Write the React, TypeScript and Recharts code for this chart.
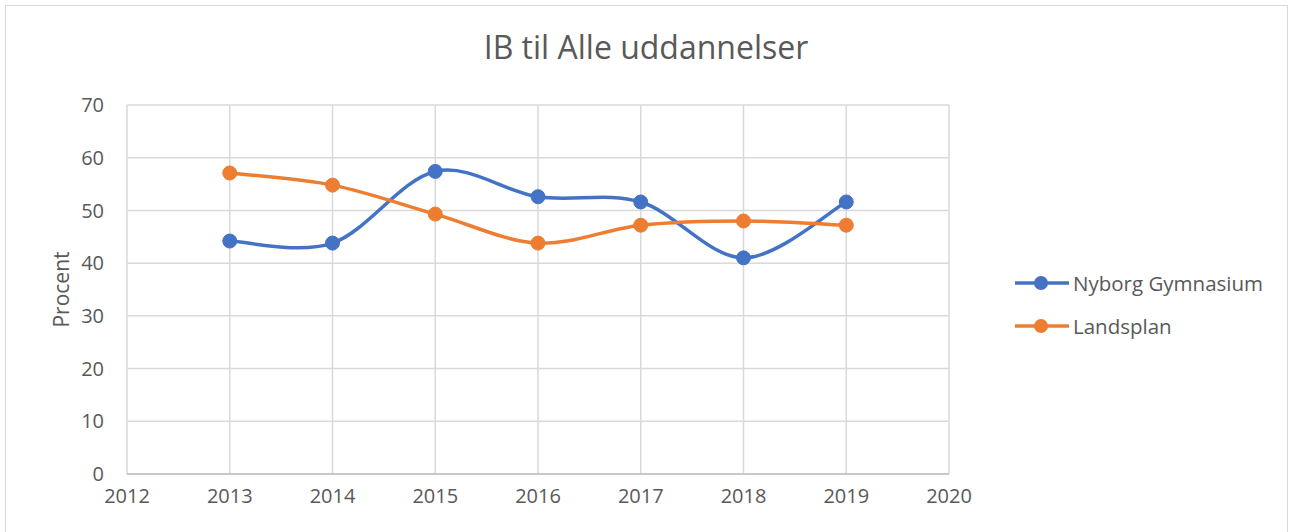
import React from "react";
import { LineChart, Line, XAxis, YAxis, CartesianGrid } from "recharts";

const years = [2013, 2014, 2015, 2016, 2017, 2018, 2019];
const nyborg = [44.2, 43.8, 57.4, 52.6, 51.6, 41.0, 51.6];
const landsplan = [57.1, 54.8, 49.3, 43.8, 47.2, 48.0, 47.2];
const xTicks = [2012, 2013, 2014, 2015, 2016, 2017, 2018, 2019, 2020];
const yTicks = [0, 10, 20, 30, 40, 50, 60, 70];
const seriesNames = ["Nyborg Gymnasium", "Landsplan"];
const colors = ["#4472C4", "#ED7D31"];

const data = years.map((y, i) => ({ year: y, nyborg: nyborg[i], landsplan: landsplan[i] }));

// Excel-like smoothing (Catmull-Rom style Bezier)
const excelCurve: any = (context: any) => {
  let pts: [number, number][] = [];
  return {
    areaStart() {},
    areaEnd() {},
    lineStart() {
      pts = [];
    },
    point(x: number, y: number) {
      pts.push([+x, +y]);
    },
    lineEnd() {
      const n = pts.length;
      if (!n) return;
      context.moveTo(pts[0][0], pts[0][1]);
      for (let i = 0; i < n - 1; i++) {
        const p0 = pts[Math.max(0, i - 1)];
        const p1 = pts[i];
        const p2 = pts[i + 1];
        const p3 = pts[Math.min(n - 1, i + 2)];
        const c1x = p1[0] + (p2[0] - p0[0]) / 6;
        const c1y = p1[1] + (p2[1] - p0[1]) / 6;
        const c2x = p2[0] - (p3[0] - p1[0]) / 6;
        const c2y = p2[1] - (p3[1] - p1[1]) / 6;
        context.bezierCurveTo(c1x, c1y, c2x, c2y, p2[0], p2[1]);
      }
    },
  };
};

const font = "'Open Sans', sans-serif";
const textColor = "#595959";

export default function App() {
  return (
    <div style={{ position: "absolute", left: 0, top: 0, width: 1292, height: 532, background: "#fff", overflow: "hidden", fontFamily: font }}>
      <div style={{ position: "absolute", left: 5, top: 5, width: 1281, height: 540, border: "1px solid #d9d9d9" }} />
      <div style={{ position: "absolute", left: 0, top: 25, width: 1292, textAlign: "center", fontSize: 32, color: textColor }}>
        IB til Alle uddannelser
      </div>
      <div style={{ position: "absolute", left: 0, top: 0 }}>
        <LineChart width={1292} height={532} data={data} margin={{ top: 105, right: 343, bottom: 28, left: 67 }}>
          <CartesianGrid stroke="#d9d9d9" strokeWidth={1.5} />
          <XAxis
            dataKey="year"
            type="number"
            domain={[2012, 2020]}
            ticks={xTicks}
            height={30}
            tickLine={false}
            tickSize={0}
            tickMargin={15}
            axisLine={{ stroke: "#bfbfbf", strokeWidth: 1.5 }}
            tick={{ fill: textColor, fontSize: 20, fontFamily: font }}
            interval={0}
          />
          <YAxis
            domain={[0, 70]}
            ticks={yTicks}
            width={60}
            axisLine={false}
            tickLine={false}
            tickSize={0}
            tickMargin={23}
            tick={{ fill: textColor, fontSize: 20, fontFamily: font }}
            interval={0}
            label={{ value: "Procent", angle: -90, position: "insideLeft", dx: -10, fill: textColor, fontSize: 21, fontFamily: font, style: { textAnchor: "middle" } }}
          />
          <Line dataKey="nyborg" name={seriesNames[0]} type={excelCurve} stroke={colors[0]} strokeWidth={3.5} dot={{ r: 7, fill: colors[0], stroke: colors[0], strokeWidth: 1 }} activeDot={false} isAnimationActive={false} />
          <Line dataKey="landsplan" name={seriesNames[1]} type={excelCurve} stroke={colors[1]} strokeWidth={3.5} dot={{ r: 7, fill: colors[1], stroke: colors[1], strokeWidth: 1 }} activeDot={false} isAnimationActive={false} />
        </LineChart>
      </div>
      {seriesNames.map((name, i) => (
        <div key={name} style={{ position: "absolute", left: 1014, top: 270 + i * 43, height: 26, display: "flex", alignItems: "center" }}>
          <svg width={56} height={26}>
            <line x1={1} y1={13} x2={55} y2={13} stroke={colors[i]} strokeWidth={3.5} />
            <circle cx={27} cy={13} r={7} fill={colors[i]} />
          </svg>
          <span style={{ fontSize: 20.5, color: textColor, marginLeft: 3 }}>{name}</span>
        </div>
      ))}
    </div>
  );
}
